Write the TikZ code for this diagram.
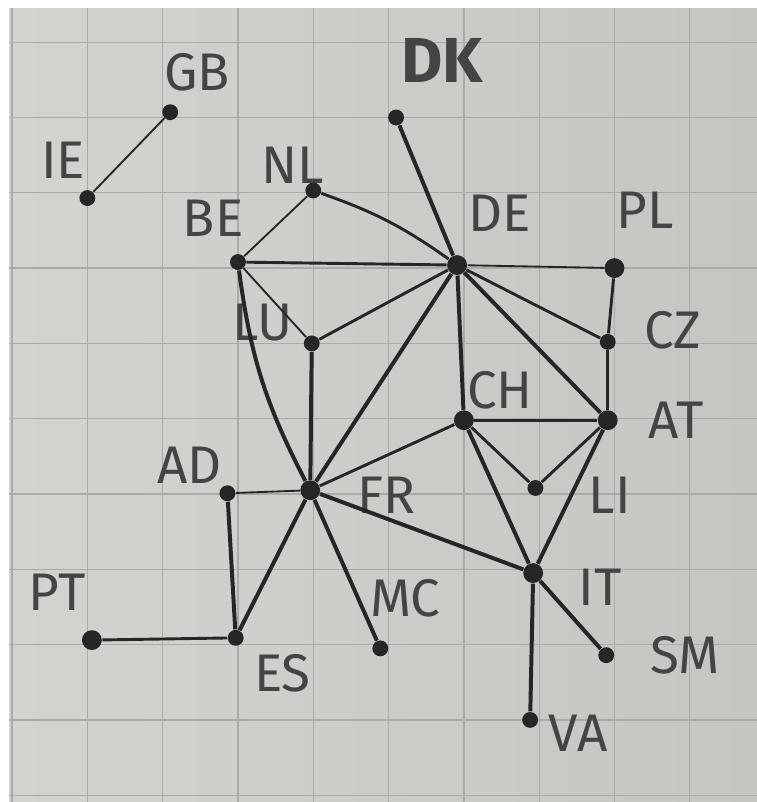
\documentclass[tikz,border=0pt]{standalone}
\usepackage{fontspec}
\setmainfont{Fira Sans}
\usepackage{tikz}
\usepackage{xcolor}
\definecolor{paperL}{HTML}{D4D3D0}
\definecolor{paperR}{HTML}{C6C5C2}
\definecolor{gridgray}{HTML}{ABAAA7}
\definecolor{pencil}{HTML}{262626}
\definecolor{ink}{HTML}{444444}

\begin{document}
\begin{tikzpicture}[
    dot/.style={circle, fill=pencil, inner sep=0pt, minimum size=6pt},
    bigdot/.style={dot, minimum size=7.5pt},
    lbl/.style={text=ink, font=\fontsize{20}{20}\selectfont, inner sep=0pt},
    edgethin/.style={draw=pencil, line width=0.7pt},
    edgemid/.style={draw=pencil, line width=1.1pt},
    edgethick/.style={draw=pencil, line width=1.5pt},
    x=1cm, y=1cm
]
  % paper and grid
  \useasboundingbox (-0.16,-10.09) rectangle (9.89,0.56);
  \fill[white] (-0.16,-10.09) rectangle (9.89,0.56);
  \shade[left color=paperL, right color=paperR] (-0.04,-10.09) rectangle (9.89,0.45);
  \draw[gridgray, line width=0.5pt, step=1] (-0.04,-10.09) grid (9.89,0.45);

  % Country nodes
  \node[dot] (GB) at (2.10,-0.93) {};
  \node[dot] (IE) at (1.00,-2.07) {};
  \node[dot] (DK) at (5.10,-1.00) {};
  \node[dot] (NL) at (4.00,-1.97) {};
  \node[dot] (BE) at (3.00,-2.92) {};
  \node[bigdot] (DE) at (5.91,-2.96) {};
  \node[bigdot] (PL) at (8.00,-3.00) {};
  \node[dot] (LU) at (3.98,-4.00) {};
  \node[dot] (CZ) at (7.91,-3.98) {};
  \node[bigdot] (CH) at (6.00,-5.02) {};
  \node[bigdot] (AT) at (7.91,-5.02) {};
  \node[dot] (AD) at (2.86,-5.99) {};
  \node[bigdot] (FR) at (3.96,-5.95) {};
  \node[dot] (LI) at (6.95,-5.92) {};
  \node[bigdot] (IT) at (6.92,-7.05) {};
  \node[bigdot] (PT) at (1.06,-7.94) {};
  \node[dot] (ES) at (2.97,-7.91) {};
  \node[dot] (MC) at (4.89,-8.05) {};
  \node[dot] (SM) at (7.89,-8.14) {};
  \node[dot] (VA) at (6.88,-9.00) {};

  % Labels
  \node[lbl] (lGB) at (2.46,-0.40) {GB};
  \node[lbl] (lIE) at (0.68,-1.57) {IE};
  \node[lbl, font=\fontsize{24}{24}\selectfont\bfseries] (lDK) at (5.71,-0.24) {DK};
  \node[lbl] (lNL) at (3.73,-1.63) {NL};
  \node[lbl] (lBE) at (2.67,-2.34) {BE};
  \node[lbl] (lDE) at (6.48,-2.27) {DE};
  \node[lbl] (lPL) at (8.41,-2.23) {PL};
  \node[lbl] (lLU) at (3.32,-3.72) {LU};
  \node[lbl] (lCZ) at (8.77,-3.82) {CZ};
  \node[lbl] (lCH) at (6.48,-4.62) {CH};
  \node[lbl] (lAT) at (8.82,-5.02) {AT};
  \node[lbl] (lAD) at (2.36,-5.62) {AD};
  \node[lbl] (lFR) at (4.97,-6.02) {FR};
  \node[lbl] (lLI) at (7.94,-6.02) {LI};
  \node[lbl] (lIT) at (7.81,-7.24) {IT};
  \node[lbl] (lPT) at (0.60,-7.30) {PT};
  \node[lbl] (lES) at (3.59,-8.38) {ES};
  \node[lbl] (lMC) at (5.22,-7.38) {MC};
  \node[lbl] (lSM) at (8.94,-8.14) {SM};
  \node[lbl] (lVA) at (7.52,-9.18) {VA};

  % Islands
  \draw[edgethin] (IE)--(GB);

  % North
  \draw[edgethick] (DK)--(DE);
  \draw[edgethin] (NL)--(BE);
  \draw[edgemid] (NL) to[bend left=8] (DE);
  \draw[edgemid] (BE)--(DE);
  \draw[edgethin] (BE)--(LU);
  \draw[edgethick] (BE) to[bend right=10] (FR);
  \draw[edgemid] (LU)--(DE);
  \draw[edgethick] (LU)--(FR);

  % Germany and the east
  \draw[edgethin] (DE)--(PL);
  \draw[edgemid] (DE)--(CZ);
  \draw[edgethick] (DE)--(AT);
  \draw[edgethick] (DE)--(CH);
  \draw[edgethick] (DE)--(FR);
  \draw[edgemid] (PL)--(CZ);
  \draw[edgemid] (CZ)--(AT);

  % Alps
  \draw[edgemid] (CH)--(AT);
  \draw[edgemid] (CH)--(LI);
  \draw[edgemid] (LI)--(AT);
  \draw[edgethick] (CH)--(IT);
  \draw[edgethick] (AT)--(IT);
  \draw[edgemid] (FR)--(CH);

  % South
  \draw[edgethick] (FR)--(IT);
  \draw[edgethick] (FR)--(MC);
  \draw[edgethick] (FR)--(ES);
  \draw[edgethin] (AD)--(FR);
  \draw[edgethick] (AD)--(ES);
  \draw[edgemid] (PT)--(ES);
  \draw[edgethick] (IT)--(SM);
  \draw[edgethick] (IT)--(VA);
\end{tikzpicture}
\end{document}
